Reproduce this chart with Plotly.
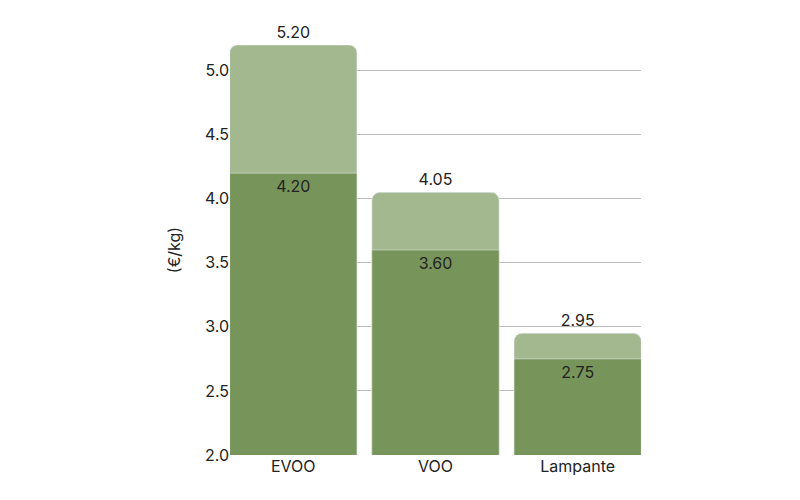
import plotly.graph_objects as go

categories = ["EVOO", "VOO", "Lampante"]
high_vals = [5.20, 4.05, 2.95]
low_vals = [4.20, 3.60, 2.75]

fig = go.Figure()
fig.add_trace(go.Bar(x=categories, y=high_vals, marker=dict(color="#a3b88f", cornerradius=8),
                     text=[f"{v:.2f}" for v in high_vals], textposition="outside",
                     textfont=dict(size=16, color="#222"), cliponaxis=False, width=0.895))
fig.add_trace(go.Bar(x=categories, y=low_vals, marker=dict(color="#77955a"),
                     text=[f"{v:.2f}" for v in low_vals], textposition="inside",
                     insidetextanchor="end", textfont=dict(size=16, color="#222"),
                     cliponaxis=False, width=0.895))
fig.update_layout(
    width=800, height=500, barmode="overlay", showlegend=False,
    plot_bgcolor="white", paper_bgcolor="white",
    margin=dict(l=222, r=167, t=37, b=53),
    font=dict(family="Inter", size=16, color="#222"),
    xaxis=dict(range=[-0.445, 2.445], showgrid=False, ticks="", tickfont=dict(size=16)),
    yaxis=dict(range=[2.0, 5.2], dtick=0.5, tickformat=".1f", gridcolor="#bbb",
               title=dict(text="(€/kg)", standoff=20, font=dict(size=16)), zeroline=False,
               tickfont=dict(size=16)),
)
fig.write_html("out.html")
